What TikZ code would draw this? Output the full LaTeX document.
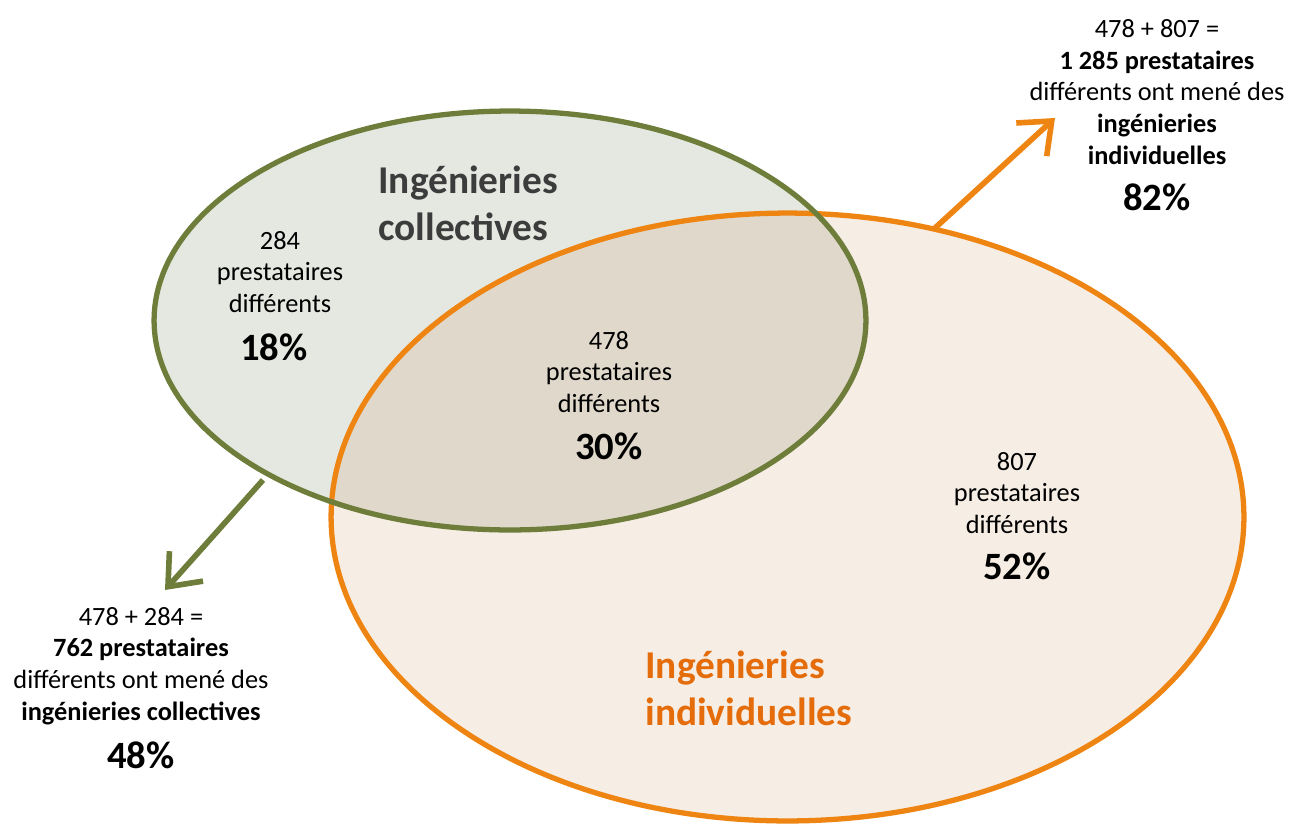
\documentclass[tikz,border=0pt]{standalone}
\usepackage{fontspec}
\setmainfont{Carlito}
\usetikzlibrary{arrows.meta}
\definecolor{gline}{HTML}{6E7D3A}
\definecolor{gfill}{HTML}{E5E8E1}
\definecolor{oline}{HTML}{EE8512}
\definecolor{ofill}{HTML}{F6EDE4}
\definecolor{mfill}{HTML}{DFD8CB}
\definecolor{otext}{HTML}{E46C0A}
\definecolor{gtext}{HTML}{3C3C3C}
\tikzset{
  body/.style={align=center, inner sep=0pt, text=black, font=\fontsize{15}{18.1}\selectfont},
  pct/.style={inner sep=0pt, text=black, font=\fontsize{22}{26}\selectfont\bfseries},
  title/.style={align=left, inner sep=0pt, anchor=west, font=\fontsize{22.4}{26.6}\selectfont\bfseries},
  linkarrow/.style={line width=3.2pt, -{Straight Barb[length=5.5mm,width=9mm,line width=3.2pt]}},
}
\begin{document}
\begin{tikzpicture}[x=0.02cm,y=-0.02cm]
\useasboundingbox (0,0) rectangle (1290,825);
% fills
\fill[gfill] (510,320.5) ellipse [x radius=7.12cm, y radius=4.19cm];
\fill[ofill] (787.5,517) ellipse [x radius=9.13cm, y radius=6.08cm];
\begin{scope}
  \clip (510,320.5) ellipse [x radius=7.12cm, y radius=4.19cm];
  \fill[mfill] (787.5,517) ellipse [x radius=9.13cm, y radius=6.08cm];
\end{scope}
% outlines
\draw[oline, line width=3pt] (787.5,517) ellipse [x radius=9.13cm, y radius=6.08cm];
\draw[gline, line width=3pt] (510,320.5) ellipse [x radius=7.12cm, y radius=4.19cm];
% arrows
\coordinate (ga) at (263,480);
\coordinate (gb) at (165,590);
\coordinate (oa) at (935,228);
\coordinate (ob) at (1055,118);
\draw[linkarrow, gline] (ga) -- (gb);
\draw[linkarrow, oline] (oa) -- (ob);
% titles
\node[title, text=gtext] (tcol) at (378,203) {Ingénieries\\collectives};
\node[title, text=otext] (tind) at (645,688) {Ingénieries\\individuelles};
% region labels
\node[body] (n284) at (280,272) {284\\prestataires\\différents};
\node[pct] (p18) at (274,347) {18\%};
\node[body] (n478) at (609,372) {478\\prestataires\\différents};
\node[pct] (p30) at (609,446) {30\%};
\node[body] (n807) at (1017,493) {807\\prestataires\\différents};
\node[pct] (p52) at (1017,566) {52\%};
% outside labels
\node[body] (lcol) at (141,666) {478 + 284 =\\\textbf{762 prestataires}\\différents ont mené des\\\textbf{ingénieries collectives}};
\node[pct] (p48) at (141,755) {48\%};
\node[body] (lind) at (1157,92) {478 + 807 =\\\textbf{1 285 prestataires}\\différents ont mené des\\\textbf{ingénieries}\\\textbf{individuelles}};
\node[pct] (p82) at (1157,197) {82\%};
\end{tikzpicture}
\end{document}
